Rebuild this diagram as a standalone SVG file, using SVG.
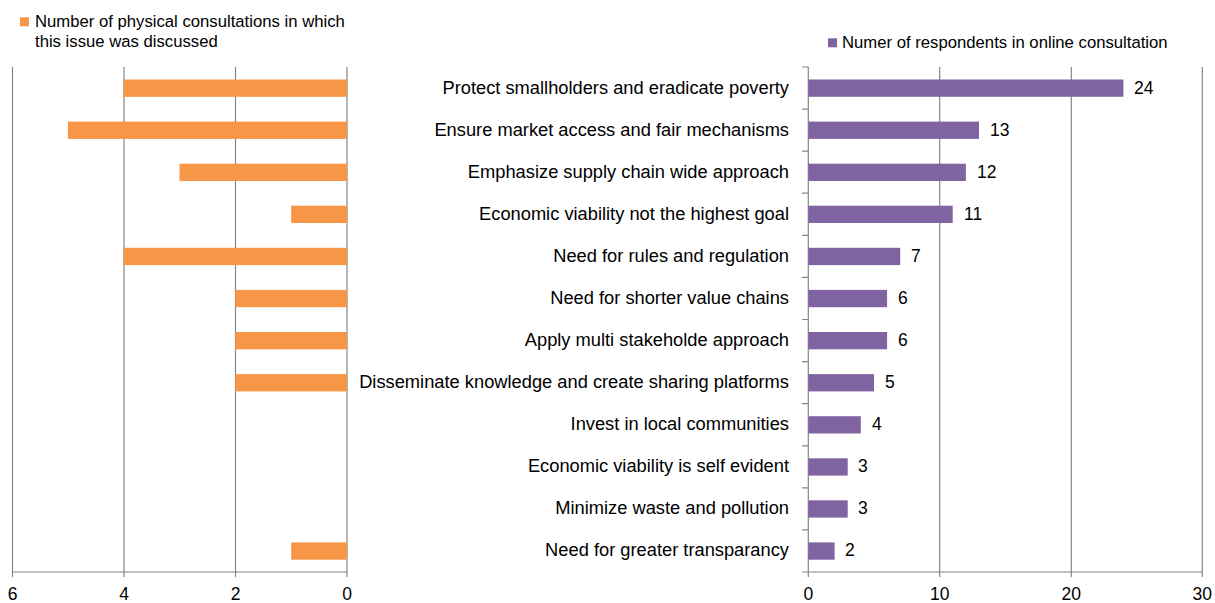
<svg xmlns="http://www.w3.org/2000/svg" width="1215" height="603" viewBox="0 0 1215 603">
<style>
text{font-family:"Liberation Sans",Arial,sans-serif;fill:#000}
.cat{font-size:18.3px;text-anchor:end}
.val{font-size:17.5px}
.tick{font-size:17.5px;text-anchor:middle}
.leg{font-size:16.7px}
.grid{stroke:#868686;stroke-width:1.2;fill:none}
.or{fill:#F79646}
.pu{fill:#8064A2}
</style>
<rect width="1215" height="603" fill="#fff"/>
<g id="left-chart">
<g id="left-grid" class="grid">
<line x1="12.5" y1="67" x2="12.5" y2="577"/>
<line x1="124" y1="67" x2="124" y2="577"/>
<line x1="235.5" y1="67" x2="235.5" y2="577"/>
<line x1="347" y1="67" x2="347" y2="577"/>
<line x1="12.5" y1="572" x2="347" y2="572"/>
</g>
<g id="left-bars" class="or">
<rect x="123.7" y="79.5" width="223.3" height="17.3"/>
<rect x="67.9" y="121.6" width="279.1" height="17.3"/>
<rect x="179.5" y="163.7" width="167.5" height="17.3"/>
<rect x="291.2" y="205.7" width="55.8" height="17.3"/>
<rect x="123.7" y="247.8" width="223.3" height="17.3"/>
<rect x="235.3" y="289.9" width="111.7" height="17.3"/>
<rect x="235.3" y="332.0" width="111.7" height="17.3"/>
<rect x="235.3" y="374.1" width="111.7" height="17.3"/>
<rect x="291.2" y="542.4" width="55.8" height="17.3"/>
</g>
<g id="left-ticks">
<text class="tick" x="12.5" y="600">6</text>
<text class="tick" x="124" y="600">4</text>
<text class="tick" x="235.5" y="600">2</text>
<text class="tick" x="347" y="600">0</text>
</g>
<g id="left-legend">
<rect class="or" x="20" y="17.3" width="9" height="9"/>
<text class="leg" x="35" y="27">Number of physical consultations in which</text>
<text class="leg" x="35" y="47">this issue was discussed</text>
</g>
</g>
<g id="categories">
<text class="cat" x="789" y="94">Protect smallholders and eradicate poverty</text>
<text class="cat" x="789" y="136">Ensure market access and fair mechanisms</text>
<text class="cat" x="789" y="178">Emphasize supply chain wide approach</text>
<text class="cat" x="789" y="220">Economic viability not the highest goal</text>
<text class="cat" x="789" y="262">Need for rules and regulation</text>
<text class="cat" x="789" y="304">Need for shorter value chains</text>
<text class="cat" x="789" y="346">Apply multi stakeholde approach</text>
<text class="cat" x="789" y="388">Disseminate knowledge and create sharing platforms</text>
<text class="cat" x="789" y="430">Invest in local communities</text>
<text class="cat" x="789" y="472">Economic viability is self evident</text>
<text class="cat" x="789" y="514">Minimize waste and pollution</text>
<text class="cat" x="789" y="556">Need for greater transparancy</text>
</g>
<g id="right-chart">
<g id="right-grid" class="grid">
<line x1="939.7" y1="67" x2="939.7" y2="577"/>
<line x1="1071.3" y1="67" x2="1071.3" y2="577"/>
<line x1="1202.3" y1="67" x2="1202.3" y2="577"/>
<line x1="808.3" y1="67" x2="808.3" y2="577"/>
<line x1="802" y1="572" x2="1202.3" y2="572"/>
<path d="M802 67H808.3M802 109.1H808.3M802 151.2H808.3M802 193.2H808.3M802 235.3H808.3M802 277.4H808.3M802 319.5H808.3M802 361.6H808.3M802 403.7H808.3M802 445.8H808.3M802 487.8H808.3M802 529.9H808.3"/>
</g>
<g id="right-bars" class="pu">
<rect x="808.3" y="79.5" width="315.1" height="17.3"/>
<rect x="808.3" y="121.6" width="170.7" height="17.3"/>
<rect x="808.3" y="163.7" width="157.6" height="17.3"/>
<rect x="808.3" y="205.7" width="144.4" height="17.3"/>
<rect x="808.3" y="247.8" width="91.9" height="17.3"/>
<rect x="808.3" y="289.9" width="78.8" height="17.3"/>
<rect x="808.3" y="332.0" width="78.8" height="17.3"/>
<rect x="808.3" y="374.1" width="65.7" height="17.3"/>
<rect x="808.3" y="416.2" width="52.5" height="17.3"/>
<rect x="808.3" y="458.3" width="39.4" height="17.3"/>
<rect x="808.3" y="500.3" width="39.4" height="17.3"/>
<rect x="808.3" y="542.4" width="26.3" height="17.3"/>
</g>
<g id="right-values">
<text class="val" x="1134" y="94">24</text>
<text class="val" x="990" y="136">13</text>
<text class="val" x="977" y="178">12</text>
<text class="val" x="964" y="220">11</text>
<text class="val" x="911" y="262">7</text>
<text class="val" x="898" y="304">6</text>
<text class="val" x="898" y="346">6</text>
<text class="val" x="885" y="388">5</text>
<text class="val" x="872" y="430">4</text>
<text class="val" x="858" y="472">3</text>
<text class="val" x="858" y="514">3</text>
<text class="val" x="845" y="556">2</text>
</g>
<g id="right-ticks">
<text class="tick" x="808.3" y="600">0</text>
<text class="tick" x="939.7" y="600">10</text>
<text class="tick" x="1071.3" y="600">20</text>
<text class="tick" x="1202.3" y="600">30</text>
</g>
<g id="right-legend">
<rect class="pu" x="828" y="38.3" width="9" height="9"/>
<text class="leg" x="842" y="48">Numer of respondents in online consultation</text>
</g>
</g>
</svg>
